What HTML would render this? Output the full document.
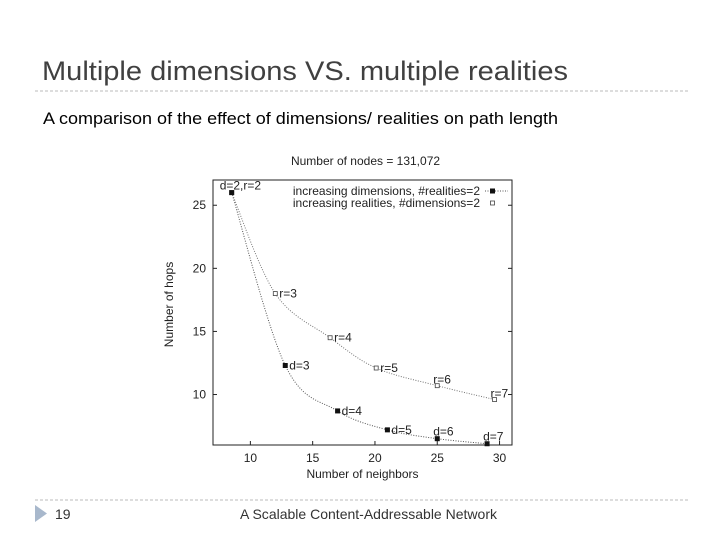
<!DOCTYPE html>
<html><head><meta charset="utf-8"><style>
body{margin:0;background:#fff}
svg{display:block;font-family:"Liberation Sans",sans-serif}
</style></head><body>
<svg width="720" height="540" viewBox="0 0 720 540">
<text x="42" y="80" font-size="27" fill="#404040" textLength="526" lengthAdjust="spacingAndGlyphs">Multiple dimensions VS. multiple realities</text>
<line x1="35" y1="91" x2="690" y2="91" stroke="#bbb" stroke-dasharray="3,2"/>
<text x="43" y="124" font-size="17" fill="#000" textLength="515" lengthAdjust="spacingAndGlyphs">A comparison of the effect of dimensions/ realities on path length</text>
<line x1="35" y1="500" x2="690" y2="500" stroke="#bbb" stroke-dasharray="3,2"/>
<polygon points="35,505 47,513.5 35,522" fill="#a8b8cc"/>
<text x="55" y="519" font-size="14" fill="#333">19</text>
<text x="240" y="519" font-size="14" fill="#333" textLength="257" lengthAdjust="spacingAndGlyphs">A Scalable Content-Addressable Network</text>
<g id="chart"></g>
</svg>
<script>
const xTicks=[10,15,20,25,30];
const yTicks=[10,15,20,25];
const dimX=[8.5,12.8,17,21,25,29];
const dimY=[26,12.3,8.7,7.2,6.5,6.1];
const dimLabels=["d=2,r=2","d=3","d=4","d=5","d=6","d=7"];
const realX=[8.5,12,16.4,20.1,25,29.6];
const realY=[26,18,14.5,12.1,10.7,9.6];
const realLabels=["","r=3","r=4","r=5","r=6","r=7"];
const L=213,R=512,T=180,B=445,X0=7,X1=31,Y0=6,Y1=27;
const sx=v=>L+(v-X0)/(X1-X0)*(R-L);
const sy=v=>B-(v-Y0)/(Y1-Y0)*(B-T);
const NS="http://www.w3.org/2000/svg";
const g=document.getElementById('chart');
function mk(t,a,txt){const e=document.createElementNS(NS,t);for(const k in a)e.setAttribute(k,a[k]);if(txt!==undefined)e.textContent=txt;g.appendChild(e);return e;}
let e=mk('rect',{x:L,y:T,width:R-L,height:B-T,fill:'none',stroke:'#222','stroke-width':1});


xTicks.forEach(v=>{
 let t=mk('line',{x1:sx(v),x2:sx(v),y1:B,y2:B-4,stroke:'#222'});
 
 
 let l=mk('text',{x:sx(v),y:B+17,'font-size':12,'text-anchor':'middle',fill:'#222'},v);
 
 
});
yTicks.forEach(v=>{
 let t=mk('line',{x1:L,x2:L+4,y1:sy(v),y2:sy(v),stroke:'#222'});
 
 
 let t2=mk('line',{x1:R,x2:R-4,y1:sy(v),y2:sy(v),stroke:'#222'});
 
 
 let l=mk('text',{x:L-7,y:sy(v)+4,'font-size':12,'text-anchor':'end',fill:'#222'},v);
 
 
});
e=mk('text',{x:(L+R)/2+3,y:165,'font-size':12,'text-anchor':'middle',fill:'#222'},'Number of nodes = 131,072');


e=mk('text',{x:(L+R)/2,y:478,'font-size':12,'text-anchor':'middle',fill:'#222'},'Number of neighbors');


e=mk('text',{x:0,y:0,'font-size':12,'text-anchor':'middle',fill:'#222',transform:`translate(173,${(T+B)/2-8}) rotate(-90)`},'Number of hops');


function curve(xs,ys){let p='M'+sx(xs[0])+','+sy(ys[0]);for(let i=1;i<xs.length;i++){const a=[sx(xs[i-1]),sy(ys[i-1])],b=[sx(xs[i]),sy(ys[i])];const c=i>1?[sx(xs[i-2]),sy(ys[i-2])]:a;const d=i<xs.length-1?[sx(xs[i+1]),sy(ys[i+1])]:b;p+=` C${a[0]+(b[0]-c[0])/6},${a[1]+(b[1]-c[1])/6} ${b[0]-(d[0]-a[0])/6},${b[1]-(d[1]-a[1])/6} ${b[0]},${b[1]}`;}return p;}
e=mk('path',{d:curve(dimX,dimY),fill:'none',stroke:'#555','stroke-dasharray':'1,1.5'});


e=mk('path',{d:curve(realX,realY),fill:'none',stroke:'#777','stroke-dasharray':'1,1.5'});


realX.forEach((x,i)=>{
 let p=mk('rect',{x:sx(x)-2,y:sy(realY[i])-2,width:4,height:4,fill:'#fff',stroke:'#444','stroke-width':0.8});
 
 
 if(realLabels[i]){let l=mk('text',{x:sx(x)+(i>=4?-4:4),y:sy(realY[i])+(i>=4?-2:4),'font-size':12,fill:'#222'},realLabels[i]);
 
 }
});
dimX.forEach((x,i)=>{
 let p=mk('rect',{x:sx(x)-2.5,y:sy(dimY[i])-2.5,width:5,height:5,fill:'#111'});
 
 
 let dx=i==0?-12:(i>=4?-4:4),dy=i==0?-3:(i>=4?-3:4);
 let l=mk('text',{x:sx(x)+dx,y:sy(dimY[i])+dy,'font-size':12,fill:'#222'},dimLabels[i]);
 
 
});
e=mk('text',{x:480,y:195,'font-size':12,'text-anchor':'end',fill:'#222'},'increasing dimensions, #realities=2');


e=mk('line',{x1:485,x2:508,y1:191,y2:191,stroke:'#555','stroke-dasharray':'1,1.5'});


e=mk('rect',{x:490,y:188.5,width:5,height:5,fill:'#111'});


e=mk('text',{x:480,y:207,'font-size':12,'text-anchor':'end',fill:'#222'},'increasing realities, #dimensions=2');


e=mk('rect',{x:490.5,y:201,width:4,height:4,fill:'#fff',stroke:'#444','stroke-width':0.8});


</script>
</body></html>
